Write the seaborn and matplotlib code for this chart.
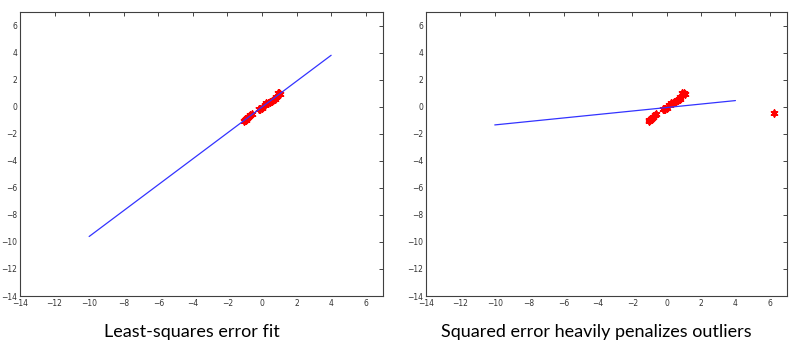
import numpy as np
import pandas as pd
import matplotlib.pyplot as plt
import seaborn as sns

# inlier points (same in both panels)
point_x = [-1.05, -1.0, -0.95, -0.9, -0.85, -0.8, -0.7, -0.6, -0.2, -0.15, -0.1, 0.0,
           0.15, 0.25, 0.35, 0.45, 0.55, 0.65, 0.75, 0.8, 0.9, 1.0, 1.05]
point_y = [-1.05, -1.0, -0.95, -0.9, -0.85, -0.8, -0.65, -0.55, -0.2, -0.2, -0.15, -0.1,
           0.1, 0.25, 0.3, 0.35, 0.45, 0.5, 0.6, 0.7, 1.0, 1.0, 0.95]
outlier_x = [6.25]
outlier_y = [-0.5]

# fitted lines, end points
fit_x = [-10, 4]
fit_left_y = [-9.6, 3.8]
fit_right_y = [-1.35, 0.45]

captions = ['Least-squares error fit', 'Squared error heavily penalizes outliers']
ticks = list(range(-14, 7, 2))

sns.set_style('white', rc={'xtick.direction': 'in', 'ytick.direction': 'in',
                           'axes.edgecolor': '#404040'})
plt.rcParams['font.family'] = ['DejaVu Sans']

fig = plt.figure(figsize=(8, 3.49), dpi=100)
ax1 = fig.add_axes([20 / 800, 1 - 296 / 349, 363 / 800, 284 / 349])
ax2 = fig.add_axes([426 / 800, 1 - 296 / 349, 361 / 800, 284 / 349])

pts = pd.DataFrame({'x': point_x, 'y': point_y})
pts_out = pd.DataFrame({'x': point_x + outlier_x, 'y': point_y + outlier_y})

panels = [(ax1, pts, fit_left_y), (ax2, pts_out, fit_right_y)]
for ax, df, fy in panels:
    sns.lineplot(x=fit_x, y=fy, ax=ax, color='#3333ff', linewidth=0.9)
    sns.scatterplot(data=df, x='x', y='y', ax=ax, marker=(6, 2, 0), s=22,
                    color='red', edgecolor='red', linewidth=1.3)
    ax.set_xlim(-14, 7)
    ax.set_ylim(-14, 7)
    ax.set_xticks(ticks)
    ax.set_yticks(ticks)
    ax.tick_params(axis='both', labelsize=5.5, labelcolor='#333333', length=3, width=0.6,
                   top=True, right=True)
    ax.tick_params(axis='x', pad=2.5)
    ax.tick_params(axis='y', pad=2)
    ax.set_xlabel('')
    ax.set_ylabel('')
    for s in ax.spines.values():
        s.set_linewidth(0.8)

fig.text(192 / 800, 1 - 332 / 349, captions[0], ha='center', va='center',
         fontsize=13, color='black', family=['Lato', 'DejaVu Sans'])
fig.text(596 / 800, 1 - 332 / 349, captions[1], ha='center', va='center',
         fontsize=13, color='black', family=['Lato', 'DejaVu Sans'])

fig.savefig('out.png', dpi=100)
